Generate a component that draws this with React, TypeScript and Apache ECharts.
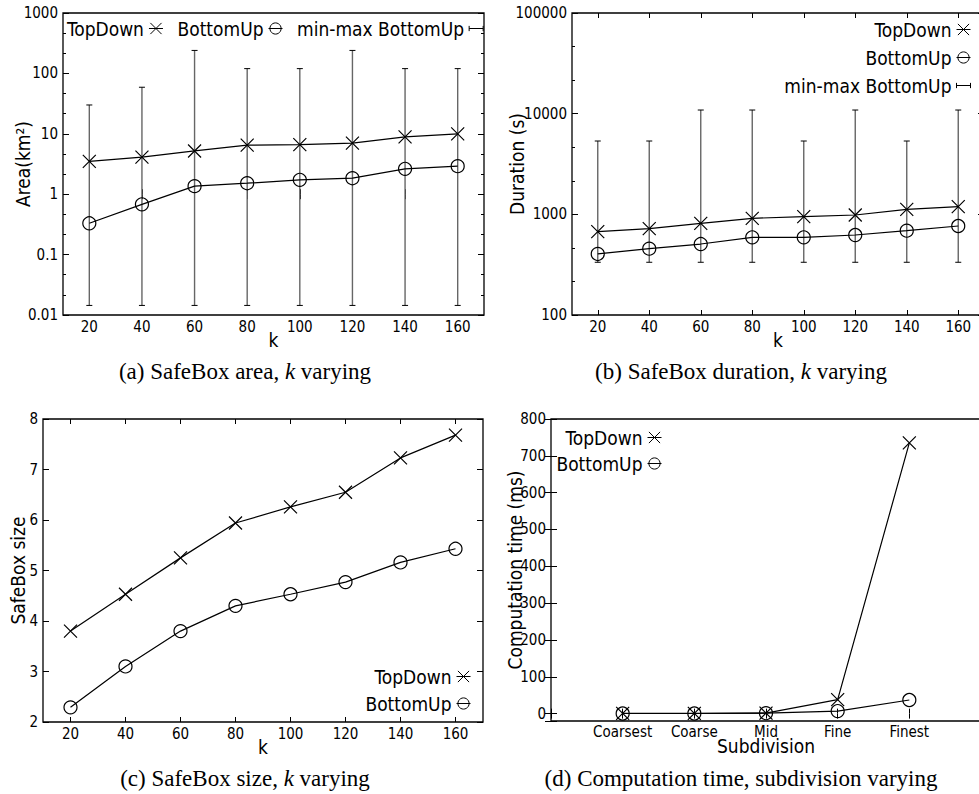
import React, { useEffect, useRef } from 'react';
import * as echarts from 'echarts';

// ---------- data ----------
const kValues = ['20', '40', '60', '80', '100', '120', '140', '160'];

const areaTopDown = [3.5, 4.1, 5.2, 6.5, 6.6, 7.0, 8.9, 10.0];
const areaBottomUp = [0.33, 0.68, 1.36, 1.52, 1.73, 1.84, 2.63, 2.91];
const areaMin = [0.0144, 0.0144, 0.0144, 0.0144, 0.0144, 0.0144, 0.0144, 0.0144];
const areaMax = [30, 59, 240, 120, 120, 240, 120, 120];
const areaTickLabels = ['0.01', '0.1', '1', '10', '100', '1000'];

const durationTopDown = [673, 721, 814, 913, 948, 985, 1121, 1192];
const durationBottomUp = [404, 456, 507, 591, 591, 623, 688, 766];
const durationMin = [334, 334, 334, 334, 334, 334, 334, 334];
const durationMax = [5350, 5350, 10870, 10870, 5350, 10870, 5350, 10870];
const durationTickLabels = ['100', '1000', '10000', '100000'];

const sizeTopDown = [3.8, 4.53, 5.25, 5.94, 6.26, 6.55, 7.23, 7.68];
const sizeBottomUp = [2.29, 3.1, 3.8, 4.3, 4.53, 4.77, 5.16, 5.43];

const subdivisions = ['Coarsest', 'Coarse', 'Mid', 'Fine', 'Finest'];
const timeTopDown = [0.5, 0.5, 1.5, 38, 735];
const timeBottomUp = [0.4, 0.4, 1.2, 7, 37];

const captions = [
  '(a) SafeBox area, {i|k} varying',
  '(b) SafeBox duration, {i|k} varying',
  '(c) SafeBox size, {i|k} varying',
  '(d) Computation time, subdivision varying',
];

// ---------- styles ----------
const SANS = '"DejaVu Sans Condensed", "Liberation Sans", sans-serif';
const SERIF = '"Liberation Serif", "DejaVu Serif", serif';
const INK = '#000';
const TICK_FS = 15;
const NAME_FS = 19;
const LEGEND_FS = 19;

const X_PATH = 'path://M0,0L20,20M20,0L0,20';
const ERR_ICON = 'path://M0,0L0,6M0,3L16,3M16,0L16,6';

const labelStyle = { color: INK, fontFamily: SANS, fontSize: TICK_FS, fontWeight: 'normal' };
const nameStyle = { color: INK, fontFamily: SANS, fontSize: NAME_FS, fontWeight: 'normal' };

function catX(gridIndex: number, pos: 'bottom' | 'top', name?: string) {
  const main = pos === 'bottom';
  return {
    type: 'category',
    gridIndex,
    position: pos,
    data: kValues,
    boundaryGap: true,
    axisLine: { show: false },
    axisTick: { show: true, inside: true, alignWithLabel: true, length: 5, lineStyle: { color: INK, width: 1 } },
    axisLabel: { show: main, margin: 4, ...labelStyle },
    splitLine: { show: false },
    name: main ? name : undefined,
    nameLocation: 'middle',
    nameGap: 15,
    nameMoveOverlap: false,
    nameTextStyle: nameStyle,
  };
}

function logTickAxis(gridIndex: number, pos: 'left' | 'right', lo: number, hi: number) {
  return {
    type: 'value',
    gridIndex,
    position: pos,
    min: lo,
    max: hi,
    interval: 1,
    axisLine: { show: false },
    axisTick: { show: true, inside: true, length: 6, lineStyle: { color: INK, width: 1 } },
    minorTick: { show: true, splitNumber: 3, length: 3, lineStyle: { color: INK, width: 1 } },
    axisLabel: { show: false },
    splitLine: { show: false },
    minorSplitLine: { show: false },
  };
}

function lineSeries(name: string, data: any[], xAxisIndex: number, yAxisIndex: number, symbol: string) {
  return {
    type: 'line',
    name,
    data,
    xAxisIndex,
    yAxisIndex,
    symbol,
    symbolSize: 13,
    showSymbol: true,
    z: 3,
    lineStyle: { color: INK, width: 1.2 },
    itemStyle: { color: 'transparent', borderColor: INK, borderWidth: 1.2 },
    emphasis: { disabled: true },
  };
}

function errorSeries(lo: number[], hi: number[], xAxisIndex: number, yAxisIndex: number) {
  return {
    type: 'custom',
    name: 'min-max BottomUp',
    xAxisIndex,
    yAxisIndex,
    z: 2,
    itemStyle: { color: INK },
    encode: { x: 0, y: [1, 2] },
    data: lo.map((v, i) => [i, v, hi[i]]),
    renderItem: (params: any, api: any) => {
      const x = api.value(0);
      const a = api.coord([x, api.value(1)]);
      const b = api.coord([x, api.value(2)]);
      const w = 3;
      return {
        type: 'group',
        children: [
          { type: 'line', shape: { x1: a[0], y1: a[1], x2: b[0], y2: b[1] }, style: { stroke: '#666', lineWidth: 1.4 } },
          { type: 'line', shape: { x1: a[0] - w, y1: a[1], x2: a[0] + w, y2: a[1] }, style: { stroke: INK, lineWidth: 1 } },
          { type: 'line', shape: { x1: b[0] - w, y1: b[1], x2: b[0] + w, y2: b[1] }, style: { stroke: INK, lineWidth: 1 } },
        ],
      };
    },
  };
}

const legendBase = {
  selectedMode: false,
  align: 'right',
  padding: 0,
  itemWidth: 14,
  itemHeight: 14,
  itemStyle: { color: 'transparent', borderColor: INK, borderWidth: 1 },
  lineStyle: { color: INK, width: 1 },
  textStyle: { color: INK, fontFamily: SANS, fontSize: LEGEND_FS, fontWeight: 'normal' },
};
const legendItems3 = [
  { name: 'TopDown' },
  { name: 'BottomUp' },
  { name: 'min-max BottomUp', icon: ERR_ICON, itemStyle: { color: 'transparent', borderColor: INK, borderWidth: 1 } },
];
const legendItems2 = [{ name: 'TopDown' }, { name: 'BottomUp' }];

export default function App() {
  const ref = useRef<HTMLDivElement>(null);

  useEffect(() => {
    if (!ref.current) return;
    const chart = echarts.init(ref.current, undefined, { renderer: 'svg' });

    const grid = [
      { left: 63, top: 13, width: 421, height: 302 },
      { left: 572, top: 13, width: 412, height: 302 },
      { left: 43, top: 419, width: 440, height: 303 },
      { left: 551, top: 419, width: 430, height: 302 },
    ].map((g) => ({
      ...g,
      show: true,
      borderColor: INK,
      borderWidth: 1.3,
      backgroundColor: 'transparent',
      containLabel: false,
      outerBoundsMode: 'none',
    }));

    const xAxis = [
      catX(0, 'bottom', 'k'),
      catX(0, 'top'),
      catX(1, 'bottom', 'k'),
      catX(1, 'top'),
      catX(2, 'bottom', 'k'),
      catX(2, 'top'),
      {
        type: 'value', gridIndex: 3, position: 'bottom', min: 0, max: 6, interval: 1,
        axisLine: { show: false },
        axisTick: { show: true, inside: true, length: 5, lineStyle: { color: INK } },
        axisLabel: { margin: 3, ...labelStyle, formatter: (v: number) => subdivisions[v - 1] ?? '' },
        splitLine: { show: false },
        name: 'Subdivision', nameLocation: 'middle', nameGap: 15, nameMoveOverlap: false, nameTextStyle: nameStyle,
      },
      {
        type: 'value', gridIndex: 3, position: 'top', min: 0, max: 6, interval: 1,
        axisLine: { show: false },
        axisTick: { show: true, inside: true, length: 5, lineStyle: { color: INK } },
        axisLabel: { show: false },
        splitLine: { show: false },
      },
    ];

    const yAxis = [
      {
        type: 'log', logBase: 10, gridIndex: 0, position: 'left', min: 0.01, max: 1000,
        axisLine: { show: false }, axisTick: { show: false }, splitLine: { show: false },
        axisLabel: { margin: 5, ...labelStyle, formatter: (v: number) => areaTickLabels[Math.round(Math.log10(v)) + 2] ?? '' },
        name: 'Area(km²)', nameLocation: 'middle', nameGap: 31, nameMoveOverlap: false, nameTextStyle: nameStyle,
      },
      logTickAxis(0, 'left', -2, 3),
      logTickAxis(0, 'right', -2, 3),
      {
        type: 'log', logBase: 10, gridIndex: 1, position: 'left', min: 100, max: 100000,
        axisLine: { show: false }, axisTick: { show: false }, splitLine: { show: false },
        axisLabel: { margin: 5, ...labelStyle, formatter: (v: number) => durationTickLabels[Math.round(Math.log10(v)) - 2] ?? '' },
        name: 'Duration (s)', nameLocation: 'middle', nameGap: 46, nameMoveOverlap: false, nameTextStyle: nameStyle,
      },
      logTickAxis(1, 'left', 2, 5),
      logTickAxis(1, 'right', 2, 5),
      {
        type: 'value', gridIndex: 2, position: 'left', min: 2, max: 8, interval: 1,
        axisLine: { show: false },
        axisTick: { show: true, inside: true, length: 6, lineStyle: { color: INK } },
        splitLine: { show: false },
        axisLabel: { margin: 5, ...labelStyle },
        name: 'SafeBox size', nameLocation: 'middle', nameGap: 16, nameMoveOverlap: false, nameTextStyle: nameStyle,
      },
      {
        type: 'value', gridIndex: 2, position: 'right', min: 2, max: 8, interval: 1,
        axisLine: { show: false },
        axisTick: { show: true, inside: true, length: 6, lineStyle: { color: INK } },
        splitLine: { show: false },
        axisLabel: { show: false },
      },
      {
        type: 'value', gridIndex: 3, position: 'left', min: -20, max: 800, splitNumber: 8,
        axisLine: { show: false },
        axisTick: { show: true, inside: true, length: 6, lineStyle: { color: INK } },
        splitLine: { show: false },
        axisLabel: { margin: 5, ...labelStyle, formatter: (v: number) => (v >= 0 && v % 100 === 0 ? String(v) : '') },
        name: 'Computation time (ms)', nameLocation: 'middle', nameGap: 27, nameMoveOverlap: false, nameTextStyle: nameStyle,
      },
      {
        type: 'value', gridIndex: 3, position: 'right', min: -20, max: 800, splitNumber: 8,
        axisLine: { show: false },
        axisTick: { show: true, inside: true, length: 6, lineStyle: { color: INK } },
        splitLine: { show: false },
        axisLabel: { show: false },
      },
    ];

    const series = [
      errorSeries(areaMin, areaMax, 0, 0),
      lineSeries('TopDown', areaTopDown, 0, 0, X_PATH),
      lineSeries('BottomUp', areaBottomUp, 0, 0, 'circle'),
      errorSeries(durationMin, durationMax, 2, 3),
      lineSeries('TopDown', durationTopDown, 2, 3, X_PATH),
      lineSeries('BottomUp', durationBottomUp, 2, 3, 'circle'),
      lineSeries('TopDown', sizeTopDown, 4, 6, X_PATH),
      lineSeries('BottomUp', sizeBottomUp, 4, 6, 'circle'),
      lineSeries('TopDown', timeTopDown.map((v, i) => [i + 1, v]), 6, 8, X_PATH),
      lineSeries('BottomUp', timeBottomUp.map((v, i) => [i + 1, v]), 6, 8, 'circle'),
    ];

    const legend = [
      { ...legendBase, orient: 'horizontal', left: 67, top: 19, itemGap: 14, data: legendItems3 },
      { ...legendBase, orient: 'vertical', right: 8, top: 20, itemGap: 9, data: legendItems3 },
      { ...legendBase, orient: 'vertical', right: 508, top: 667, itemGap: 8, data: legendItems2 },
      { ...legendBase, orient: 'vertical', right: 317, top: 428, itemGap: 7, data: legendItems2 },
    ];

    const captionPos = [
      [245, 371],
      [741, 371],
      [245, 778],
      [741, 778],
    ];
    const graphic = captions.map((t, i) => ({
      type: 'text',
      x: captionPos[i][0],
      y: captionPos[i][1],
      silent: true,
      style: {
        text: t,
        fill: INK,
        fontFamily: SERIF,
        fontSize: 23,
        align: 'center',
        verticalAlign: 'middle',
        rich: { i: { fontStyle: 'italic', fontFamily: SERIF, fontSize: 23, fill: INK } },
      },
    }));

    chart.setOption({
      animation: false,
      backgroundColor: '#fff',
      grid,
      xAxis,
      yAxis,
      series,
      legend,
      graphic,
    });

    return () => chart.dispose();
  }, []);

  return (
    <div style={{ position: 'fixed', left: 0, top: 0, width: 979, height: 794, background: '#fff', overflow: 'hidden' }}>
      <div ref={ref} style={{ width: 979, height: 794 }} />
    </div>
  );
}
